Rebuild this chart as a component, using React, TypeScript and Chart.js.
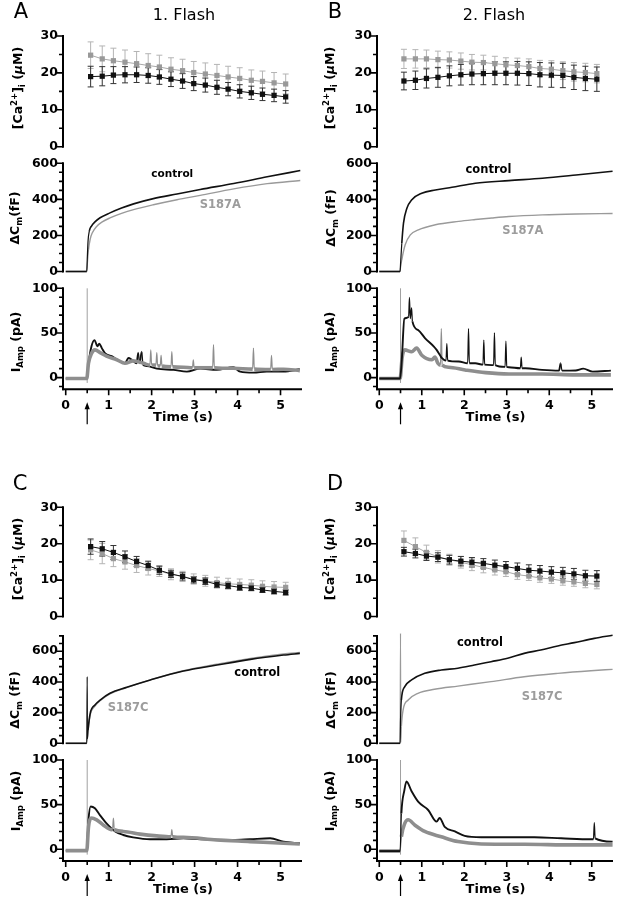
import React, { useEffect, useRef } from "react";
import { Chart, registerables } from "chart.js";

Chart.register(...registerables);

// ---------------- data ----------------
const flashTime = 0.5;

// [Ca2+]i sample times (s)
const caTime = [0.58, 0.85, 1.11, 1.38, 1.65, 1.92, 2.18, 2.45, 2.72, 2.98, 3.25, 3.52, 3.78, 4.05, 4.32, 4.58, 4.85, 5.12];

// Panel A – [Ca2+]i (µM)
const caA_ctrl = [19.0, 19.1, 19.4, 19.5, 19.5, 19.3, 18.9, 18.3, 17.8, 17.1, 16.7, 16.1, 15.6, 15.0, 14.6, 14.2, 13.9, 13.5];
const caA_ctrlErr = [2.8, 2.6, 2.3, 2.2, 2.1, 2.1, 2.0, 2.0, 2.0, 1.9, 1.9, 1.9, 1.8, 1.8, 1.8, 1.7, 1.7, 1.7];
const caA_mut = [24.8, 23.8, 23.3, 22.9, 22.5, 22.0, 21.6, 21.0, 20.6, 20.1, 19.7, 19.3, 18.9, 18.5, 18.0, 17.7, 17.3, 17.0];
const caA_mutErr = [3.6, 3.5, 3.4, 3.3, 3.3, 3.2, 3.2, 3.1, 3.1, 3.0, 3.0, 3.0, 2.9, 2.9, 2.8, 2.8, 2.8, 2.7];
// Panel B
const caB_ctrl = [17.8, 18.0, 18.5, 18.8, 19.2, 19.5, 19.7, 19.8, 19.9, 19.9, 19.9, 19.8, 19.5, 19.4, 19.3, 18.8, 18.5, 18.3];
const caB_ctrlErr = [2.4, 2.5, 2.6, 2.7, 2.7, 2.8, 2.9, 3.0, 3.1, 3.1, 3.2, 3.2, 3.3, 3.3, 3.3, 3.3, 3.3, 3.3];
const caB_mut = [23.8, 23.8, 23.8, 23.6, 23.5, 23.2, 22.9, 22.8, 22.5, 22.2, 22.0, 21.7, 21.2, 21.0, 20.6, 20.3, 20.1, 19.8];
const caB_mutErr = [2.6, 2.5, 2.4, 2.3, 2.2, 2.2, 2.1, 2.0, 2.0, 1.9, 2.0, 2.1, 2.2, 2.3, 2.4, 2.5, 2.5, 2.5];
// Panel C
const caC_ctrl = [19.2, 18.6, 17.6, 16.4, 15.1, 14.0, 12.7, 11.7, 11.0, 10.1, 9.7, 8.8, 8.5, 8.0, 7.8, 7.3, 6.9, 6.6];
const caC_ctrlErr = [2.1, 2.0, 1.9, 1.6, 1.4, 1.2, 1.1, 1.0, 1.0, 0.9, 0.9, 0.8, 0.8, 0.8, 0.7, 0.7, 0.7, 0.7];
const caC_mut = [18.3, 17.3, 15.9, 15.0, 14.0, 13.2, 12.5, 11.6, 11.0, 10.3, 9.8, 9.3, 9.0, 8.8, 8.6, 8.3, 8.1, 8.0];
const caC_mutErr = [2.7, 2.8, 2.2, 2.0, 1.9, 1.8, 1.5, 1.5, 1.4, 1.4, 1.5, 1.5, 1.5, 1.5, 1.5, 1.5, 1.5, 1.4];
// Panel D
const caD_ctrl = [17.8, 17.3, 16.6, 16.3, 15.6, 15.2, 14.9, 14.6, 14.1, 13.7, 13.2, 12.7, 12.5, 12.2, 12.0, 11.7, 11.2, 11.1];
const caD_ctrlErr = [1.2, 1.2, 1.2, 1.2, 1.2, 1.3, 1.3, 1.3, 1.4, 1.4, 1.5, 1.5, 1.5, 1.5, 1.5, 1.5, 1.5, 1.5];
const caD_mut = [20.9, 19.2, 17.6, 16.4, 15.6, 14.9, 14.2, 13.5, 12.8, 12.3, 11.5, 11.1, 10.6, 10.3, 9.8, 9.5, 9.1, 8.8];
const caD_mutErr = [2.6, 2.4, 2.0, 1.7, 1.5, 1.6, 1.6, 1.5, 1.4, 1.3, 1.3, 1.2, 1.2, 1.2, 1.2, 1.2, 1.2, 1.2];

// ΔCm (fF) traces
const cmA_ctrl_t = [0, 0.49, 0.5, 0.52, 0.55, 0.6, 0.68, 0.8, 1.03, 1.3, 1.58, 2.04, 2.59, 3.13, 3.91, 4.69, 5.46];
const cmA_ctrl_v = [0, 0, 60, 170, 225, 252, 275, 298, 325, 352, 375, 404, 430, 455, 488, 525, 560];
const cmA_mut_t = [0, 0.49, 0.5, 0.53, 0.57, 0.62, 0.72, 0.85, 1.03, 1.3, 1.58, 2.04, 2.59, 3.13, 3.91, 4.69, 5.46];
const cmA_mut_v = [0, 0, 30, 120, 180, 215, 250, 275, 297, 322, 343, 370, 398, 422, 458, 487, 505];

const cmB_ctrl_t = [0, 0.49, 0.5, 0.53, 0.57, 0.65, 0.76, 1.0, 1.32, 1.71, 2.26, 3.05, 3.84, 4.63, 5.49];
const cmB_ctrl_v = [0, 0, 40, 157, 268, 351, 397, 434, 452, 467, 489, 504, 517, 535, 556];
const cmB_mut_t = [0, 0.49, 0.5, 0.53, 0.61, 0.73, 0.92, 1.32, 1.87, 2.26, 2.65, 3.05, 3.84, 4.63, 5.49];
const cmB_mut_v = [0, 0, 20, 65, 148, 203, 231, 259, 278, 288, 297, 305, 314, 319, 322];

const cmC_ctrl_t = [0, 0.49, 0.5, 0.505, 0.52, 0.57, 0.68, 0.8, 1.03, 1.42, 1.97, 2.74, 3.52, 4.3, 5.07, 5.45];
const cmC_ctrl_v = [0, 0, 434, 30, 87, 195, 250, 282, 326, 365, 413, 471, 510, 547, 575, 586];
const cmC_mut_t = [0, 0.49, 0.52, 0.57, 0.68, 0.8, 1.03, 1.42, 1.97, 2.74, 3.52, 4.3, 5.07, 5.45];
const cmC_mut_v = [0, 0, 80, 185, 243, 277, 322, 363, 413, 473, 515, 553, 582, 592];

const cmD_ctrl_t = [0, 0.49, 0.5, 0.52, 0.6, 0.76, 1.07, 1.46, 1.85, 2.24, 2.63, 3.02, 3.41, 3.8, 4.2, 4.59, 5.06, 5.49];
const cmD_ctrl_v = [0, 0, 150, 282, 369, 413, 456, 478, 489, 510, 532, 554, 586, 608, 634, 656, 684, 704];
const cmD_mut_t = [0, 0.49, 0.5, 0.505, 0.52, 0.56, 0.68, 0.91, 1.3, 1.85, 2.63, 3.41, 4.2, 4.98, 5.49];
const cmD_mut_v = [0, 0, 717, 5, 109, 217, 282, 326, 352, 373, 402, 434, 456, 473, 482];

// I_Amp (pA) traces
const iA_ctrl_t = [0, 0.49, 0.52, 0.6, 0.67, 0.74, 0.78, 0.84, 0.92, 1.07, 1.26, 1.38, 1.46, 1.54, 1.65, 1.69, 1.72, 1.77, 1.8, 1.89, 2.12, 2.51, 2.82, 3.13, 3.51, 3.9, 4.06, 4.37, 4.68, 5.07, 5.45];
const iA_ctrl_v = [-1, -1, 12, 35, 42, 35, 38, 33, 27, 24, 18, 16, 22, 20, 16, 28, 16, 29, 14, 13, 10, 8.6, 6.7, 10, 8.6, 11.6, 6.7, 5.6, 6.7, 6.7, 9.3];
const iA_mut_t = [0, 0.49, 0.53, 0.6, 0.68, 0.8, 0.95, 1.19, 1.38, 1.57, 1.81, 1.96, 1.98, 2.0, 2.1, 2.12, 2.14, 2.2, 2.22, 2.24, 2.45, 2.47, 2.49, 2.74, 2.95, 2.97, 2.99, 3.42, 3.44, 3.46, 3.9, 4.35, 4.37, 4.39, 4.77, 4.79, 4.81, 5.07, 5.45];
const iA_mut_v = [-1, -1, 16, 27, 31, 28, 24, 20, 16, 18.7, 16, 14, 31, 14, 14, 28, 13, 13, 25, 13, 12, 29, 12, 11.6, 11, 20, 11, 11, 37, 11, 10.4, 9.5, 33, 9.5, 9, 25, 9, 9.3, 7.8];

const iB_ctrl_t = [0, 0.49, 0.53, 0.59, 0.69, 0.71, 0.73, 0.76, 0.78, 0.92, 1.08, 1.28, 1.35, 1.43, 1.47, 1.57, 1.59, 1.61, 1.87, 2.08, 2.1, 2.12, 2.26, 2.44, 2.46, 2.48, 2.65, 2.69, 2.71, 2.73, 2.96, 2.98, 3.0, 3.05, 3.32, 3.34, 3.36, 3.44, 3.83, 4.23, 4.27, 4.3, 4.62, 4.8, 5.02, 5.45];
const iB_ctrl_v = [-1, -1, 20, 66, 68, 90, 66, 78, 63, 53, 44, 35, 31, 25, 22, 19, 38, 19, 18, 16, 55, 16, 16, 14.5, 42, 14.5, 14, 14, 50, 14, 12, 41, 12, 11.6, 10.5, 23, 10.5, 10.4, 8.6, 7.8, 16, 7.8, 8, 10, 6.7, 7.8];
const iB_mut_t = [0, 0.49, 0.54, 0.6, 0.76, 0.88, 1.0, 1.24, 1.31, 1.38, 1.44, 1.46, 1.48, 1.63, 2.02, 2.5, 3.05, 3.83, 4.62, 5.45];
const iB_mut_v = [-1, -1, 23, 31, 29, 33, 25, 20, 23, 16, 14, 55, 14, 11.6, 8.6, 5.6, 4.1, 4.1, 3, 3];

const iC_ctrl_t = [0, 0.49, 0.53, 0.58, 0.68, 0.8, 0.95, 1.15, 1.34, 1.57, 1.96, 2.35, 2.74, 3.13, 3.9, 4.29, 4.76, 5.07, 5.45];
const iC_ctrl_v = [-1.5, -1.5, 33, 48, 46, 38, 29, 20, 16, 13.4, 11.2, 11.2, 12.3, 11.2, 10.4, 11.2, 12.3, 8.6, 6.7];
const iC_mut_t = [0, 0.49, 0.53, 0.6, 0.72, 0.88, 1.07, 1.09, 1.11, 1.13, 1.34, 1.73, 2.12, 2.45, 2.47, 2.49, 2.74, 3.51, 4.29, 5.07, 5.45];
const iC_mut_v = [-1.5, -1.5, 25, 35, 33, 27, 22, 22, 35, 22, 20, 17, 15, 14, 22, 14, 13.4, 10.4, 8.6, 6.7, 6];

const iD_ctrl_t = [0, 0.49, 0.52, 0.59, 0.64, 0.76, 0.92, 1.15, 1.35, 1.42, 1.54, 1.78, 2.01, 2.4, 3.03, 3.65, 4.28, 4.98, 5.04, 5.06, 5.08, 5.49];
const iD_ctrl_v = [-2, -2, 40, 66, 76, 65, 53, 44, 31, 35, 25, 20, 15, 13.4, 13.4, 13.4, 12.3, 11.2, 11.2, 30, 12.3, 8.6];
const iD_mut_t = [0, 0.49, 0.52, 0.6, 0.68, 0.84, 1.07, 1.46, 1.85, 2.4, 3.42, 4.59, 5.49];
const iD_mut_v = [-2, -2, 14, 29, 33, 27, 20, 14, 8.6, 6, 5.6, 4.9, 4.9];

// flash artifact (vertical line in current traces)
const artifact_t = [0.5, 0.5];
const artifact_v = [-6, 100];

// ticks
const xMajor = [0, 1, 2, 3, 4, 5];
const xMinor = [0.5, 1.5, 2.5, 3.5, 4.5];
const caTicks = [0, 10, 20, 30];
const caMinor = [5, 15, 25];
const cmTicks = [0, 200, 400, 600];
const cmMinor600 = [50, 100, 150, 250, 300, 350, 450, 500, 550];
const cmMinor700 = [50, 100, 150, 250, 300, 350, 450, 500, 550, 650, 700];
const iTicks = [0, 50, 100];
const iMinor = [-10, 10, 20, 30, 40, 60, 70, 80, 90];

// ---------------- styling / layout ----------------
const FONT = '"DejaVu Sans", sans-serif';
const BLACK = "#111";
const GRAY_I = "#8e8e8e";
const GRAY_CM = "#9a9a9a";
const GRAY_PT = "#999";
const GRAY_LABEL = "#9c9c9c";
const YAXIS_W = 40;
const XAXIS_H = 30;

const caTitle = [
  { t: "[Ca", s: 12.5 },
  { t: "2+", s: 8.5, dy: -5 },
  { t: "]", s: 12.5 },
  { t: "i", s: 8.5, dy: 3 },
  { t: " (", s: 12.5 },
  { t: "μ", s: 12.5, it: true },
  { t: "M)", s: 12.5 },
];
const cmTitle = (sp: boolean) => [
  { t: "ΔC", s: 12.5 },
  { t: "m", s: 8.5, dy: 3 },
  { t: sp ? " (fF)" : "(fF)", s: 12.5 },
];
const iTitle = [
  { t: "I", s: 12.5 },
  { t: "Amp", s: 8.5, dy: 3 },
  { t: " (pA)", s: 12.5 },
];

const pts = (t: number[], v: number[]) => t.map((x, i) => ({ x, y: v[i] }));

function trace(t: number[], v: number[], color: string, width: number, order: number) {
  return {
    data: pts(t, v),
    borderColor: color,
    borderWidth: width,
    pointRadius: 0,
    fill: false,
    cubicInterpolationMode: "monotone",
    clip: false,
    order,
    borderJoinStyle: "round",
    segment: {
      // narrow, steep segments (spikes) are drawn thin
      borderWidth: (c: any) => {
        const dx = Math.abs(c.p1.parsed.x - c.p0.parsed.x);
        const dy = Math.abs(c.p1.parsed.y - c.p0.parsed.y);
        return dx < 0.035 && dy > 6 ? Math.min(width, 1.2) : width;
      },
    },
  };
}
function artifact() {
  return {
    data: pts(artifact_t, artifact_v),
    borderColor: "#a0a0a0",
    borderWidth: 1,
    pointRadius: 0,
    fill: false,
    tension: 0,
    clip: false,
    order: 9,
  };
}
function caSeries(v: number[], color: string, line: string, order: number) {
  return {
    data: pts(caTime, v),
    borderColor: line,
    borderWidth: 1,
    pointStyle: "rect",
    pointRadius: 3.7,
    pointBackgroundColor: color,
    pointBorderColor: color,
    pointBorderWidth: 0,
    fill: false,
    tension: 0,
    clip: false,
    order,
  };
}

const COLS = [
  { x: 0, l: 64, r: 302, xMin: -0.04, tx: [17, 14, 15] },
  { x: 309, l: 378, r: 613, xMin: -0.03, tx: [329, 330, 329] },
];
const ROWS = [
  {
    ca: { y: 0, h: 160, t: 36, b: 146.7 },
    cm: { y: 150, h: 130, t: 163.3, b: 271.7, max: 600 },
    ia: { y: 275, h: 155, t: 288.3, b: 388.3 },
    ty: [88, 218, 342],
  },
  {
    ca: { y: 460, h: 165, t: 507.3, b: 616.7 },
    cm: { y: 620, h: 135, t: 635.9, b: 743.3, max: 700 },
    ia: { y: 745, h: 154, t: 760, b: 860 },
    ty: [559, 700, 801],
  },
];

function panel(ci: number, ri: number, p: any) {
  const C = COLS[ci];
  const R = ROWS[ri];
  const W = 309;
  const base = (band: any) => ({
    canvas: { x: C.x, y: band.y, w: W, h: band.h },
    area: { l: C.l, r: C.r, t: band.t, b: band.b },
    xMin: C.xMin,
    xMax: 5.5,
  });
  const caSpec = {
    ...base(R.ca),
    yMin: 0,
    yMax: 30,
    yTicks: caTicks,
    yMinor: caMinor,
    xAxis: false,
    datasets: [caSeries(p.ca[0], BLACK, BLACK, 0), caSeries(p.ca[2], GRAY_PT, "#a8a8a8", 1)],
    errorBars: [
      { y: p.ca[2], e: p.ca[3], color: "#b4b4b4" },
      { y: p.ca[0], e: p.ca[1], color: "#333" },
    ],
    yTitle: { x: C.tx[0], y: R.ty[0], segs: caTitle },
    texts: p.texts,
    labels: [],
  };
  const cmSpec = {
    ...base(R.cm),
    yMin: 0,
    yMax: R.cm.max,
    yTicks: cmTicks,
    yMinor: R.cm.max === 600 ? cmMinor600 : cmMinor700,
    xAxis: false,
    datasets: [trace(p.cm[0], p.cm[1], BLACK, 1.6, 0), trace(p.cm[2], p.cm[3], GRAY_CM, 1.4, 1)],
    errorBars: [],
    yTitle: { x: C.tx[1], y: R.ty[1], segs: cmTitle(p.cmSpace) },
    texts: [],
    labels: p.labels,
  };
  const ia = [trace(p.ia[0], p.ia[1], BLACK, 1.9, p.grayTop ? 1 : 0), trace(p.ia[2], p.ia[3], GRAY_I, 3.6, p.grayTop ? 0 : 1), artifact()];
  const iaSpec = {
    ...base(R.ia),
    yMin: -12,
    yMax: 100,
    yTicks: iTicks,
    yMinor: iMinor,
    xAxis: true,
    datasets: ia,
    errorBars: [],
    yTitle: { x: C.tx[2], y: R.ty[2], segs: iTitle },
    texts: [],
    labels: [],
  };
  return [caSpec, cmSpec, iaSpec];
}

const SPECS: any[] = [
  ...panel(0, 0, {
    ca: [caA_ctrl, caA_ctrlErr, caA_mut, caA_mutErr],
    cm: [cmA_ctrl_t, cmA_ctrl_v, cmA_mut_t, cmA_mut_v],
    ia: [iA_ctrl_t, iA_ctrl_v, iA_mut_t, iA_mut_v],
    grayTop: true,
    cmSpace: false,
    labels: [
      { t: 2.48, v: 540, text: "control", color: "#000", size: 10.5 },
      { t: 3.6, v: 370, text: "S187A", color: GRAY_LABEL, size: 11.5 },
    ],
    texts: [
      { x: 21, y: 13, text: "A", font: `21px ${FONT}` },
      { x: 184, y: 15.5, text: "1. Flash", font: `16px ${FONT}` },
    ],
  }),
  ...panel(1, 0, {
    ca: [caB_ctrl, caB_ctrlErr, caB_mut, caB_mutErr],
    cm: [cmB_ctrl_t, cmB_ctrl_v, cmB_mut_t, cmB_mut_v],
    ia: [iB_ctrl_t, iB_ctrl_v, iB_mut_t, iB_mut_v],
    grayTop: false,
    cmSpace: true,
    labels: [
      { t: 2.57, v: 561, text: "control", color: "#000", size: 11.5 },
      { t: 3.38, v: 222, text: "S187A", color: GRAY_LABEL, size: 11.5 },
    ],
    texts: [
      { x: 335, y: 13, text: "B", font: `21px ${FONT}` },
      { x: 494, y: 15.5, text: "2. Flash", font: `16px ${FONT}` },
    ],
  }),
  ...panel(0, 1, {
    ca: [caC_ctrl, caC_ctrlErr, caC_mut, caC_mutErr],
    cm: [cmC_ctrl_t, cmC_ctrl_v, cmC_mut_t, cmC_mut_v],
    ia: [iC_ctrl_t, iC_ctrl_v, iC_mut_t, iC_mut_v],
    grayTop: true,
    cmSpace: true,
    labels: [
      { t: 4.46, v: 456, text: "control", color: "#000", size: 11.5 },
      { t: 1.45, v: 230, text: "S187C", color: GRAY_LABEL, size: 11.5 },
    ],
    texts: [{ x: 20, y: 485, text: "C", font: `21px ${FONT}` }],
  }),
  ...panel(1, 1, {
    ca: [caD_ctrl, caD_ctrlErr, caD_mut, caD_mutErr],
    cm: [cmD_ctrl_t, cmD_ctrl_v, cmD_mut_t, cmD_mut_v],
    ia: [iD_ctrl_t, iD_ctrl_v, iD_mut_t, iD_mut_v],
    grayTop: false,
    cmSpace: true,
    labels: [
      { t: 2.37, v: 651, text: "control", color: "#000", size: 11.5 },
      { t: 3.83, v: 304, text: "S187C", color: GRAY_LABEL, size: 11.5 },
    ],
    texts: [{ x: 335, y: 485, text: "D", font: `21px ${FONT}` }],
  }),
];

// ---------------- drawing helpers ----------------
function drawText(ctx: any, text: string, x: number, y: number, font: string, color: string) {
  ctx.save();
  ctx.font = font;
  ctx.fillStyle = color;
  ctx.textAlign = "center";
  ctx.textBaseline = "middle";
  ctx.fillText(text, x, y);
  ctx.restore();
}

function segFont(s: any) {
  return `${s.it ? "italic " : ""}bold ${s.s}px ${FONT}`;
}

function drawRotRich(ctx: any, cx: number, cy: number, segs: any[]) {
  ctx.save();
  let total = 0;
  const widths = segs.map((s) => {
    ctx.font = segFont(s);
    const w = ctx.measureText(s.t).width;
    total += w;
    return w;
  });
  ctx.translate(cx, cy);
  ctx.rotate(-Math.PI / 2);
  ctx.fillStyle = "#000";
  ctx.textAlign = "left";
  ctx.textBaseline = "alphabetic";
  let x = -total / 2;
  const baseY = 12.5 * 0.36;
  segs.forEach((s, i) => {
    ctx.font = segFont(s);
    ctx.fillText(s.t, x, baseY + (s.dy || 0));
    x += widths[i];
  });
  ctx.restore();
}

function decorPlugin(s: any) {
  return {
    id: "decor",
    beforeDatasetsDraw(chart: any) {
      const ctx = chart.ctx;
      const xs = chart.scales.x;
      const ys = chart.scales.y;
      for (const eb of s.errorBars) {
        ctx.save();
        ctx.strokeStyle = eb.color;
        ctx.lineWidth = 1;
        ctx.beginPath();
        eb.y.forEach((v: number, i: number) => {
          const px = xs.getPixelForValue(caTime[i]);
          const lo = ys.getPixelForValue(v - eb.e[i]);
          const hi = ys.getPixelForValue(v + eb.e[i]);
          ctx.moveTo(px, lo);
          ctx.lineTo(px, hi);
          ctx.moveTo(px - 3, lo);
          ctx.lineTo(px + 3, lo);
          ctx.moveTo(px - 3, hi);
          ctx.lineTo(px + 3, hi);
        });
        ctx.stroke();
        ctx.restore();
      }
    },
    afterDraw(chart: any) {
      const ctx = chart.ctx;
      const xs = chart.scales.x;
      const ys = chart.scales.y;
      const a = chart.chartArea;
      ctx.save();
      ctx.strokeStyle = "#000";
      ctx.fillStyle = "#000";
      const ax = a.left - 1;
      ctx.lineWidth = 2;
      ctx.beginPath();
      ctx.moveTo(ax, ys.getPixelForValue(s.yMax) - 1);
      ctx.lineTo(ax, s.xAxis ? a.bottom + 2 : ys.getPixelForValue(s.yMin) + 1);
      ctx.stroke();
      ctx.lineWidth = 1.6;
      ctx.beginPath();
      for (const v of s.yTicks) {
        const py = ys.getPixelForValue(v);
        ctx.moveTo(ax, py);
        ctx.lineTo(ax - 6, py);
      }
      for (const v of s.yMinor) {
        const py = ys.getPixelForValue(v);
        ctx.moveTo(ax, py);
        ctx.lineTo(ax - 4, py);
      }
      ctx.stroke();
      if (s.xAxis) {
        const ay = a.bottom + 1;
        ctx.lineWidth = 2;
        ctx.beginPath();
        ctx.moveTo(ax - 1, ay);
        ctx.lineTo(a.right, ay);
        ctx.stroke();
        ctx.lineWidth = 1.6;
        ctx.beginPath();
        for (const v of xMajor) {
          const px = xs.getPixelForValue(v);
          ctx.moveTo(px, ay);
          ctx.lineTo(px, ay + 6);
        }
        for (const v of xMinor) {
          const px = xs.getPixelForValue(v);
          ctx.moveTo(px, ay);
          ctx.lineTo(px, ay + 4);
        }
        ctx.stroke();
        // flash arrow
        const fx = xs.getPixelForValue(flashTime);
        const top = ay + 13;
        ctx.lineWidth = 1.2;
        ctx.beginPath();
        ctx.moveTo(fx, top + 4);
        ctx.lineTo(fx, ay + 35);
        ctx.stroke();
        ctx.beginPath();
        ctx.moveTo(fx, top);
        ctx.lineTo(fx - 2.6, top + 7);
        ctx.lineTo(fx + 2.6, top + 7);
        ctx.closePath();
        ctx.fill();
        drawText(ctx, "Time (s)", (a.left + a.right) / 2, ay + 28.5, `bold 13px ${FONT}`, "#000");
      }
      drawRotRich(ctx, s.yTitle.x - s.canvas.x, s.yTitle.y - s.canvas.y, s.yTitle.segs);
      for (const L of s.labels) {
        drawText(ctx, L.text, xs.getPixelForValue(L.t), ys.getPixelForValue(L.v), `bold ${L.size}px ${FONT}`, L.color);
      }
      for (const T of s.texts) {
        drawText(ctx, T.text, T.x - s.canvas.x, T.y - s.canvas.y, T.font, "#000");
      }
      ctx.restore();
    },
  };
}

function build(canvas: HTMLCanvasElement, s: any) {
  const pad = {
    left: s.area.l - s.canvas.x - YAXIS_W,
    right: s.canvas.x + s.canvas.w - s.area.r,
    top: s.area.t - s.canvas.y,
    bottom: s.canvas.y + s.canvas.h - s.area.b - (s.xAxis ? XAXIS_H : 0),
  };
  const tickFont = { family: FONT, size: 12.5, weight: "bold" };
  return new Chart(canvas, {
    type: "line",
    data: { datasets: s.datasets },
    options: {
      animation: false,
      responsive: false,
      maintainAspectRatio: false,
      devicePixelRatio: 1,
      events: [],
      layout: { padding: pad, autoPadding: false },
      plugins: { legend: { display: false }, tooltip: { enabled: false }, title: { display: false } },
      scales: {
        x: {
          type: "linear",
          min: s.xMin,
          max: s.xMax,
          display: s.xAxis,
          grid: { display: false, drawTicks: true, tickLength: 5 },
          border: { display: false },
          ticks: { font: tickFont, color: "#000", padding: 5, maxRotation: 0, autoSkip: false },
          afterBuildTicks: (sc: any) => {
            sc.ticks = xMajor.map((v) => ({ value: v }));
          },
          afterFit: (sc: any) => {
            sc.height = s.xAxis ? XAXIS_H : 0;
          },
        },
        y: {
          type: "linear",
          min: s.yMin,
          max: s.yMax,
          grid: { display: false, drawTicks: true, tickLength: 5 },
          border: { display: false },
          ticks: { font: tickFont, color: "#000", padding: 1, autoSkip: false },
          afterBuildTicks: (sc: any) => {
            sc.ticks = s.yTicks.map((v: number) => ({ value: v }));
          },
          afterFit: (sc: any) => {
            sc.width = YAXIS_W;
          },
        },
      },
    } as any,
    plugins: [decorPlugin(s)],
  } as any);
}

export default function App() {
  const refs = useRef<(HTMLCanvasElement | null)[]>([]);
  useEffect(() => {
    const charts = SPECS.map((s, i) => build(refs.current[i] as HTMLCanvasElement, s));
    return () => {
      charts.forEach((c) => c.destroy());
    };
  }, []);
  return (
    <div style={{ position: "absolute", left: 0, top: 0, width: 618, height: 899, background: "#fff" }}>
      {SPECS.map((s, i) => (
        <canvas
          key={i}
          ref={(el) => {
            refs.current[i] = el;
          }}
          width={s.canvas.w}
          height={s.canvas.h}
          style={{ position: "absolute", left: s.canvas.x, top: s.canvas.y, width: s.canvas.w, height: s.canvas.h }}
        />
      ))}
    </div>
  );
}
